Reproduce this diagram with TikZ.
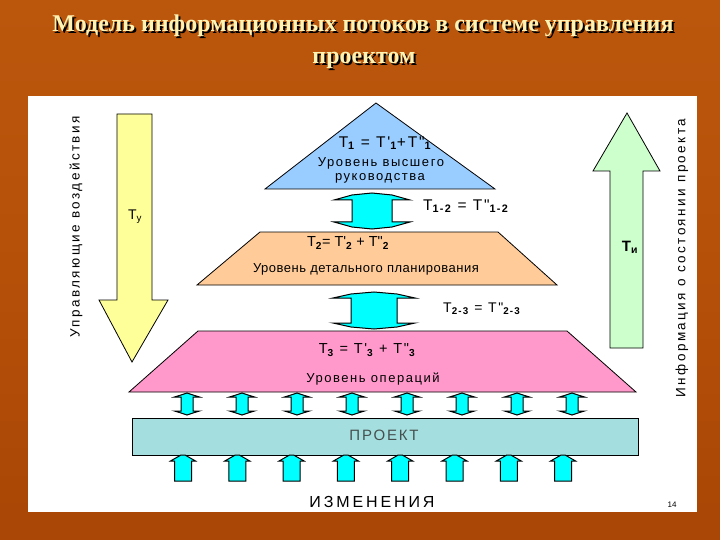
\documentclass[tikz,border=0pt]{standalone}
\usepackage{fontspec}
\usepackage{graphicx}
\setmainfont{Liberation Sans}[Ligatures=TeXOff]
\newfontfamily\titlefont{Liberation Serif}
\newfontfamily\spfont{Liberation Sans}[LetterSpace=12,Ligatures=TeXOff]
\newfontfamily\tightfont{Liberation Sans}[LetterSpace=4,Ligatures=TeXOff]
\newfontfamily\widefont{Liberation Sans}[LetterSpace=18,Ligatures=TeXOff]
\definecolor{titlecol}{RGB}{255,243,180}
\definecolor{tri}{RGB}{153,204,255}
\definecolor{peach}{RGB}{255,204,153}
\definecolor{pinkc}{RGB}{255,153,204}
\definecolor{cyanA}{RGB}{0,255,255}
\definecolor{yel}{RGB}{255,255,153}
\definecolor{grn}{RGB}{204,255,204}
\definecolor{proj}{RGB}{165,222,222}
\definecolor{projtext}{RGB}{70,80,80}
\pgfdeclareverticalshading{bgshade}{100bp}{color(0bp)=(rgb,255:red,85;green,28;blue,0);
 color(5bp)=(rgb,255:red,135;green,50;blue,2);
 color(12bp)=(rgb,255:red,165;green,65;blue,5);
 color(50bp)=(rgb,255:red,180;green,80;blue,8);
 color(85bp)=(rgb,255:red,190;green,90;blue,15);
 color(93bp)=(rgb,255:red,175;green,82;blue,12);
 color(100bp)=(rgb,255:red,105;green,50;blue,5)}
\newcommand{\tsb}[1]{\textsubscript{\bfseries #1}}
\newcommand{\shadowtxt}[1]{\rlap{\kern2pt\raisebox{-2pt}{\color{black}#1}}{\color{titlecol}#1}}
% double (up-down) block arrow: cx, ytip, ywing1, ywing2, ybot, wing half, shaft half
\newcommand{\udarr}[7]{%
 \filldraw[blockarrow] (#1-#6,#3) -- (#1-#7,#2+2) -- (#1,#2) -- (#1+#7,#2+2) -- (#1+#6,#3)
  -- (#1+#7,#3) -- (#1+#7,#4) -- (#1+#6,#4) -- (#1+#7,#5-2) -- (#1,#5) -- (#1-#7,#5-2)
  -- (#1-#6,#4) -- (#1-#7,#4) -- (#1-#7,#3) -- cycle;}
% up block arrow: cx, ytip, ywing, ybot, wing half, shaft half
\newcommand{\uparr}[6]{%
 \filldraw[blockarrow] (#1-2,#2) -- (#1+2,#2) -- (#1+#5,#3) -- (#1+#6,#3) -- (#1+#6,#4)
  -- (#1-#6,#4) -- (#1-#6,#3) -- (#1-#5,#3) -- cycle;}
\tikzset{
 shapeline/.style={draw=black, line width=0.8pt, line join=miter},
 blockarrow/.style={draw=black, fill=cyanA, line width=1pt},
 lab/.style={font=\spfont\fontsize{13}{15}\selectfont, inner sep=0pt},
 eq/.style={font=\spfont\fontsize{14}{16}\selectfont, inner sep=0pt},
 eqt/.style={font=\fontsize{14.5}{16}\selectfont, inner sep=0pt},
 side/.style={font=\widefont\fontsize{13.5}{15}\selectfont, inner sep=0pt, rotate=90},
 titl/.style={font=\titlefont\bfseries\fontsize{24}{28}\selectfont, inner sep=0pt}
}
\begin{document}
\begin{tikzpicture}[x=1pt,y=-1pt]
\useasboundingbox (0,0) rectangle (720,540);
\shade[shading=bgshade] (0,0) rectangle (720,540);
\fill[white] (28,96) rectangle (697,512);
% title
\node[titl] (t1) at (363,27) {\shadowtxt{Модель информационных потоков в системе управления}};
\node[titl] (t2) at (364,61) {\shadowtxt{проектом}};
% side arrows
\filldraw[shapeline, fill=yel] (117,114) -- (152,114) -- (152,300) -- (168,300) -- (132,362)
  -- (99,300) -- (117,300) -- cycle;
\filldraw[shapeline, fill=grn] (610,348) -- (610,171) -- (593,171) -- (627,113) -- (660,171)
  -- (643,171) -- (643,348) -- cycle;
\node[eq] (ty) at (135,217) {T\textsubscript{у}};
\node[eq, font=\spfont\bfseries\fontsize{15}{17}\selectfont] (ti) at (630,247) {T\textsubscript{и}};
\node[side] (ctrl) at (76,227) {Управляющие воздействия};
\node[side] (info) at (682,258) {Информация о состоянии проекта};
% pyramid levels
\filldraw[shapeline, fill=tri] (265,189) -- (376,103) -- (495,189) -- cycle;
\filldraw[shapeline, fill=peach] (197,285) -- (260,232) -- (498,232) -- (557,285) -- cycle;
\filldraw[shapeline, fill=pinkc] (129,392) -- (198,331) -- (567,331) -- (636,392) -- cycle;
\node[eq, font=\spfont\fontsize{15.5}{17}\selectfont] (e1) at (385,143) {T\tsb{1} = T'\tsb{1}+T"\tsb{1}};
\node[lab] (l1a) at (381,163) {Уровень высшего};
\node[lab] (l1b) at (380,178) {руководства};
\node[eqt] (e2) at (348,243) {T\tsb{2}= T'\tsb{2} + T"\tsb{2}};
\node[lab, font=\tightfont\fontsize{13}{15}\selectfont] (l2) at (366,269) {Уровень детального планирования};
\node[eq, font=\spfont\fontsize{14.5}{16}\selectfont] (e3) at (367,350) {T\tsb{3} = T'\tsb{3} + T"\tsb{3}};
\node[lab] (l3) at (373,379) {Уровень операций};
% inter-level arrows
\udarr{372}{193}{200}{222}{229}{38}{20}
\udarr{374}{292}{298}{323}{329}{41}{23}
\node[eq, font=\spfont\fontsize{15.5}{17}\selectfont, anchor=west] (e12) at (423,206) {T\tsb{1-2} = T"\tsb{1-2}};
\node[eq, anchor=west] (e23) at (443,309) {T\tsb{2-3} = T"\tsb{2-3}};
% project box
\filldraw[shapeline, fill=proj] (132,418) rectangle (638,455);
\node[font=\spfont\fontsize{15}{17}\selectfont, text=projtext, inner sep=0pt] (proekt) at (384,435) {ПРОЕКТ};
\foreach \i in {0,...,7} {
  \pgfmathsetmacro{\cx}{187+55*\i}
  \udarr{\cx}{393}{397}{411}{415}{12.5}{6}
  \pgfmathsetmacro{\cb}{183+54.3*\i}
  \uparr{\cb}{455}{461}{481}{12.5}{8.5}
}
\node[font=\widefont\fontsize{16}{18}\selectfont, inner sep=0pt] (izm) at (372,502) {ИЗМЕНЕНИЯ};
\node[font=\fontsize{8}{9}\selectfont, inner sep=0pt] (pg) at (672,505) {14};
\end{tikzpicture}
\end{document}
